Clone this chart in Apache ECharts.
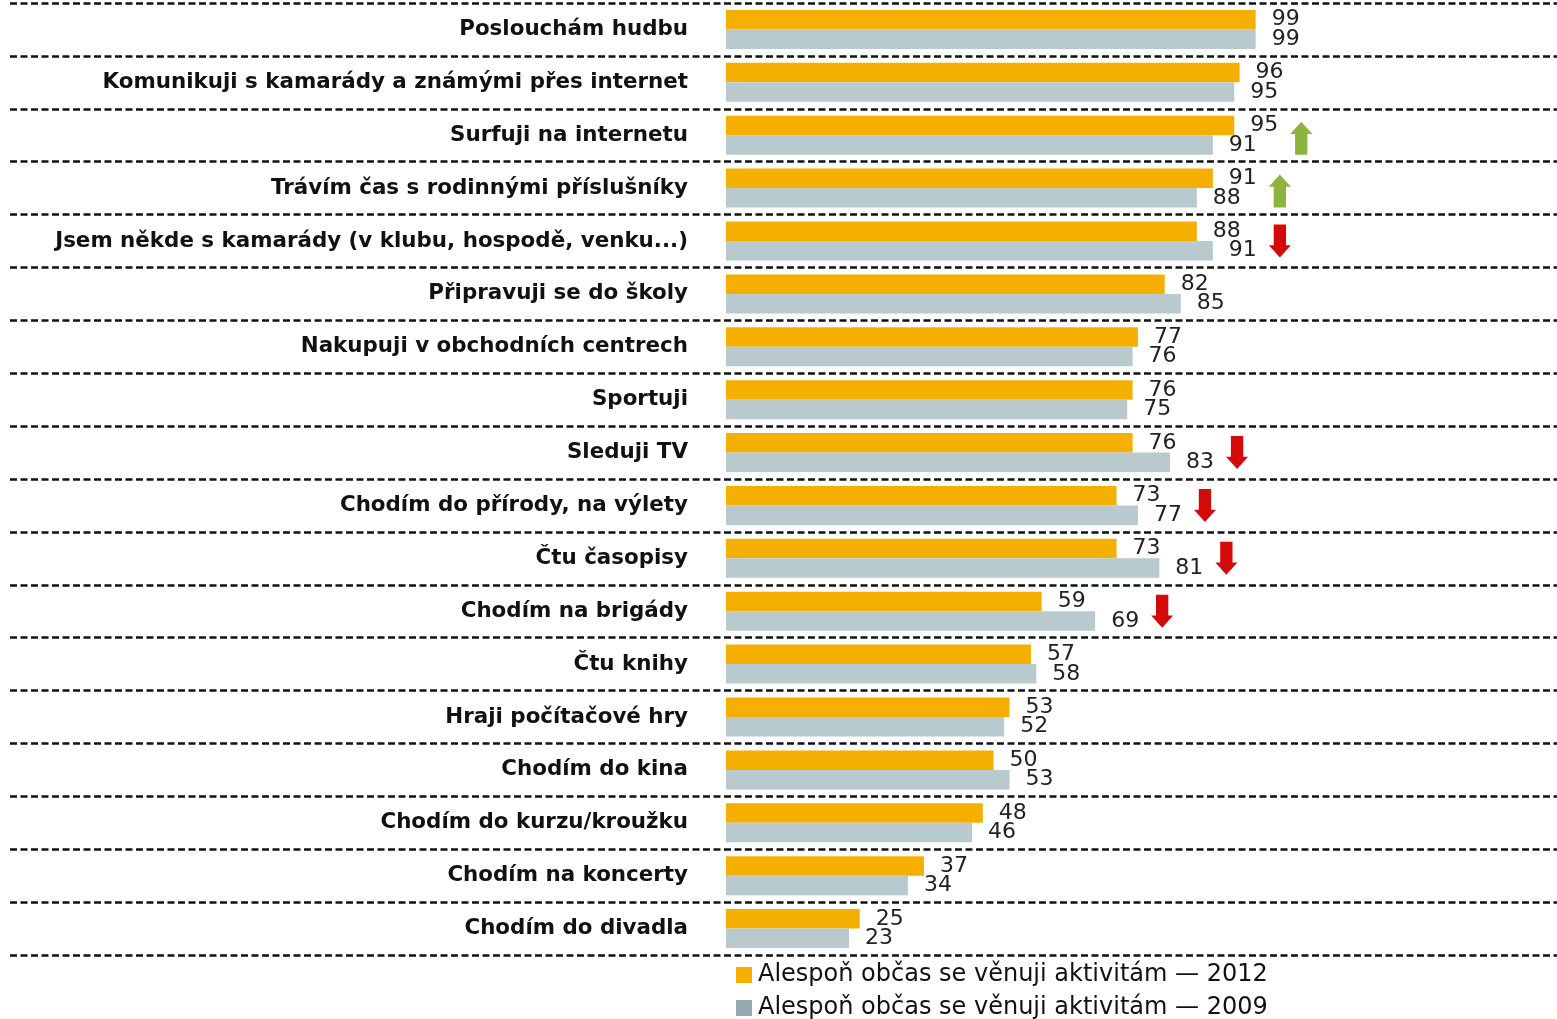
<!DOCTYPE html>
<html>
<head>
<meta charset="utf-8">
<script src="https://cdn.jsdelivr.net/npm/echarts@6/dist/echarts.min.js"></script>
<style>html,body{margin:0;padding:0;background:#fff}#chart{width:1557px;height:1019px}</style>
</head>
<body>
<div id="chart"></div>
<script>
var categories = ['Poslouchám hudbu', 'Komunikuji s kamarády a známými přes internet', 'Surfuji na internetu',
    'Trávím čas s rodinnými příslušníky', 'Jsem někde s kamarády (v klubu, hospodě, venku...)', 'Připravuji se do školy',
    'Nakupuji v obchodních centrech', 'Sportuji', 'Sleduji TV', 'Chodím do přírody, na výlety', 'Čtu časopisy',
    'Chodím na brigády', 'Čtu knihy', 'Hraji počítačové hry', 'Chodím do kina', 'Chodím do kurzu/kroužku',
    'Chodím na koncerty', 'Chodím do divadla'];
var values2012 = [99, 96, 95, 91, 88, 82, 77, 76, 76, 73, 73, 59, 57, 53, 50, 48, 37, 25];
var values2009 = [99, 95, 91, 88, 91, 85, 76, 75, 83, 77, 81, 69, 58, 52, 53, 46, 34, 23];
// change 2009 -> 2012 flagged with an arrow
var trend = ['', '', 'up', 'up', 'down', '', '', '', 'down', 'down', 'down', 'down', '', '', '', '', '', ''];
var seriesNames = ['Alespoň občas se věnuji aktivitám — 2012', 'Alespoň občas se věnuji aktivitám — 2009'];

var upArrow = 'path://M22,100 L22,37 L0,37 L50,0 L100,37 L78,37 L78,100 Z';
var downArrow = 'path://M22,0 L78,0 L78,63 L100,63 L50,100 L0,63 L22,63 Z';

function arrowData(dir) {
    var out = [];
    for (var i = 0; i < categories.length; i++) {
        if (trend[i] === dir) out.push([Math.max(values2012[i], values2009[i]), i]);
    }
    return out;
}

var chart = echarts.init(document.getElementById('chart'));
var font = 'DejaVu Sans';

function legendFor(idx, top, color) {
    return {
        orient: 'vertical', left: 731, top: top, itemWidth: 16, itemHeight: 16,
        icon: 'rect',
        textStyle: { fontSize: 24, color: '#111', fontFamily: font, padding: [0, 0, 0, 1] },
        data: [{ name: seriesNames[idx], itemStyle: { color: color } }]
    };
}

var option = {
    animation: false,
    textStyle: { fontFamily: font },
    grid: [
        { left: 10, right: 0, top: 3, height: 952 },
        { left: 726, width: 535, top: 3, height: 952 }
    ],
    xAxis: [
        { gridIndex: 0, type: 'value', show: false },
        { gridIndex: 1, type: 'value', min: 0, max: 100, show: false }
    ],
    yAxis: [
        {
            gridIndex: 0, type: 'category', inverse: true, data: categories,
            axisLine: { show: false }, axisTick: { show: false }, axisLabel: { show: false },
            splitLine: { show: true, lineStyle: { color: '#111', width: 2.5, type: [7, 3.5] } }
        },
        {
            gridIndex: 1, type: 'category', inverse: true, data: categories,
            axisLine: { show: false }, axisTick: { show: false },
            axisLabel: { margin: 38, fontSize: 21.4, fontWeight: 'bold', color: '#111', fontFamily: font, padding: [5, 0, 0, 0] }
        }
    ],
    legend: [
        legendFor(0, 958, '#F5AF00'),
        legendFor(1, 991, '#95AAAE')
    ],
    series: [
        {
            name: seriesNames[0], type: 'bar', xAxisIndex: 1, yAxisIndex: 1,
            data: values2012, barWidth: 19.5, barGap: '0%',
            itemStyle: { color: '#F5AF00' },
            label: { show: true, position: 'right', distance: 16, fontSize: 22, color: '#222', fontFamily: font }
        },
        {
            name: seriesNames[1], type: 'bar', xAxisIndex: 1, yAxisIndex: 1,
            data: values2009, barWidth: 19.5, barGap: '0%',
            itemStyle: { color: '#B8CACD' },
            label: { show: true, position: 'right', distance: 16, fontSize: 22, color: '#222', fontFamily: font }
        },
        {
            type: 'scatter', xAxisIndex: 1, yAxisIndex: 1, silent: true, z: 5,
            symbol: upArrow, symbolSize: [22, 33], symbolOffset: [67, 3],
            itemStyle: { color: '#8DB43E', opacity: 1 }, data: arrowData('up')
        },
        {
            type: 'scatter', xAxisIndex: 1, yAxisIndex: 1, silent: true, z: 5,
            symbol: downArrow, symbolSize: [22, 33], symbolOffset: [67, 0],
            itemStyle: { color: '#D40A0A', opacity: 1 }, data: arrowData('down')
        }
    ]
};
chart.setOption(option);
</script>
</body>
</html>
